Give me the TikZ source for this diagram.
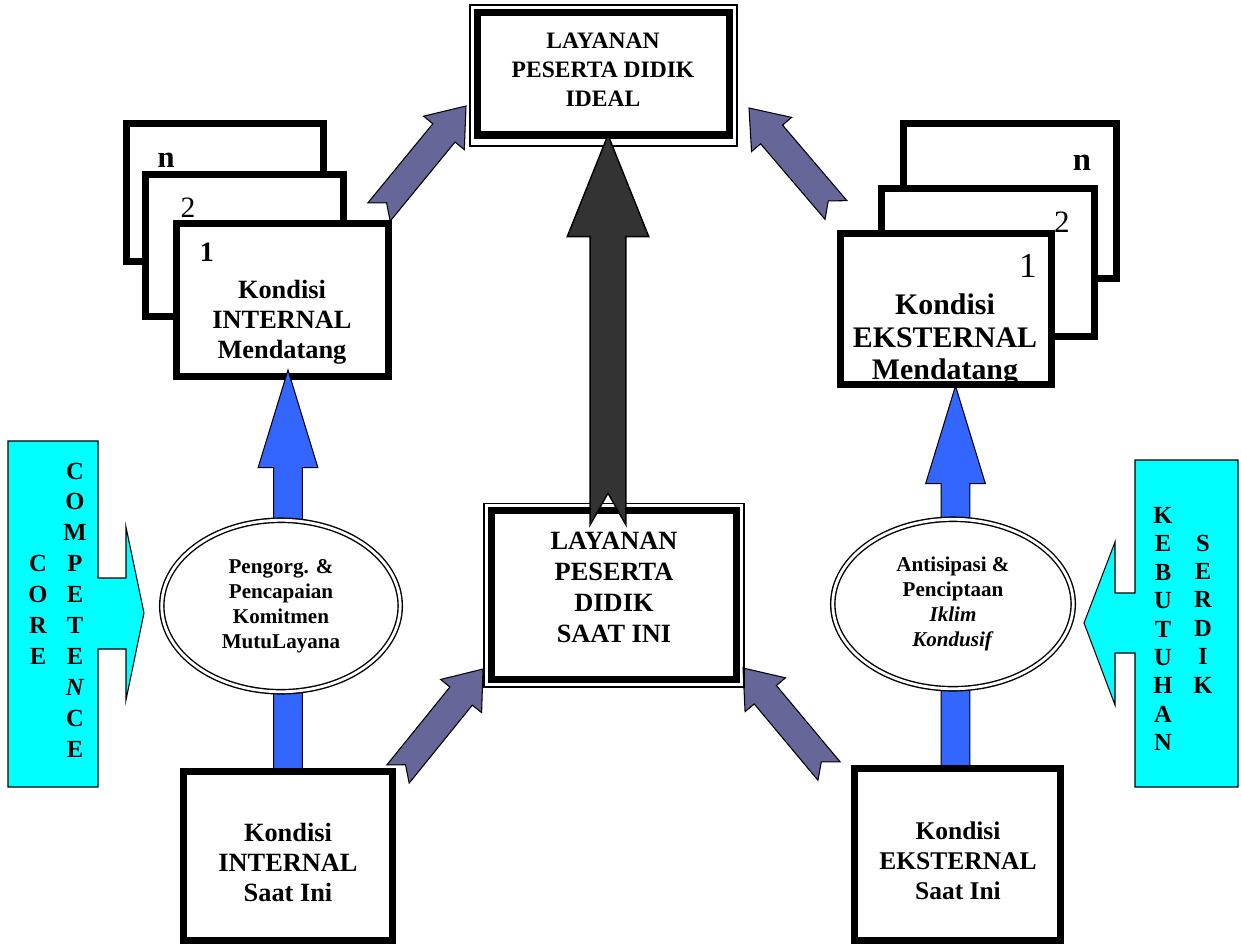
\documentclass[tikz,border=0pt]{standalone}
\usepackage{fontspec}
\setmainfont{Liberation Serif}
\usepackage{xcolor}
\definecolor{arrpurple}{HTML}{666699}
\definecolor{arrblue}{HTML}{3366FF}
\definecolor{arrdark}{HTML}{333333}
\definecolor{sidecyan}{HTML}{00FFFF}
\usetikzlibrary{calc,shapes.geometric}

% block arrow: style, tail, tip, shaft half width, head half width, head length, notch
\newcommand\blockarrow[7]{%
  \draw[#1] (#3)
    -- ($(#3)!#6!(#2)!#5!90:(#3)$)
    -- ($(#3)!#6!(#2)!#4!90:(#3)$)
    -- ($(#2)!#4!90:(#3)$)
    -- ($(#2)!#7!(#3)$)
    -- ($(#2)!#4!-90:(#3)$)
    -- ($(#3)!#6!(#2)!#4!-90:(#3)$)
    -- ($(#3)!#6!(#2)!#5!-90:(#3)$)
    -- cycle;}

\begin{document}
\begin{tikzpicture}[x=0.02cm, y=-0.02cm,
    kbox/.style={draw, line width=4pt, fill=white, inner sep=0pt},
    thinframe/.style={draw, line width=0.8pt},
    txt/.style={align=center, inner sep=0pt, font=\bfseries\fontsize{15}{17}\selectfont},
    ovalnode/.style={ellipse, draw, double, double distance=1.6pt, line width=0.8pt, fill=white, inner sep=0pt, align=center, font=\bfseries\fontsize{12}{14.2}\selectfont},
    sidetxt/.style={align=center, inner sep=0pt, font=\bfseries\fontsize{14}{17.6}\selectfont},
    sideshape/.style={draw, fill=sidecyan, line width=0.6pt},
    purplearr/.style={draw, fill=arrpurple, line width=0.6pt},
    bluearr/.style={draw, fill=arrblue, line width=0.6pt},
    darkarr/.style={draw, fill=arrdark, line width=0.8pt}
]
\useasboundingbox (0,0) rectangle (1241,944);

% side arrows
\draw[sideshape] (8,441) -- (98,441) -- (98,578) -- (126,578) -- (126,527) -- (144,613)
  -- (126,700) -- (126,649) -- (98,649) -- (98,787) -- (8,787) -- cycle;
\draw[sideshape] (1238,460) -- (1135,460) -- (1135,593) -- (1115,593) -- (1115,542) -- (1084,623)
  -- (1115,705) -- (1115,653) -- (1135,653) -- (1135,787) -- (1238,787) -- cycle;
\node[sidetxt] (core) at (38,610) {C\\O\\R\\E};
\node[sidetxt] (competence) at (75,610) {C\\O\\M\\P\\E\\T\\E\\\textit{N}\\C\\E};
\node[sidetxt, font=\bfseries\fontsize{14}{16.2}\selectfont] (kebutuhan) at (1163,629) {K\\E\\B\\U\\T\\U\\H\\A\\N};
\node[sidetxt, font=\bfseries\fontsize{14}{16.2}\selectfont] (serdik) at (1203,614) {S\\E\\R\\D\\I\\K};

% purple arrows
\coordinate (pAtail) at (379,212); \coordinate (pAtip) at (466,106);
\coordinate (pBtail) at (836,210); \coordinate (pBtip) at (749,108);
\coordinate (pCtail) at (398,774); \coordinate (pCtip) at (483,669);
\coordinate (pDtail) at (829,771); \coordinate (pDtip) at (743,668);
\blockarrow{purplearr}{pAtail}{pAtip}{8.2pt}{15pt}{19.8pt}{6.8pt}
\blockarrow{purplearr}{pBtail}{pBtip}{8.2pt}{15pt}{19.8pt}{6.8pt}
\blockarrow{purplearr}{pCtail}{pCtip}{8.2pt}{15pt}{19.8pt}{6.8pt}
\blockarrow{purplearr}{pDtail}{pDtip}{8.2pt}{15pt}{19.8pt}{6.8pt}

% internal, future
\node[kbox, minimum width=3.94cm, minimum height=2.76cm] (intn) at (225,192.5) {};
\node[inner sep=0pt, font=\bfseries\fontsize{17.4}{20}\selectfont] (intnlab) at (166,160) {n};
\node[kbox, minimum width=3.96cm, minimum height=2.84cm] (int2) at (244.5,245.5) {};
\node[inner sep=0pt, font=\fontsize{16.8}{20}\selectfont] (int2lab) at (188,208) {2};
\node[kbox, minimum width=4.24cm, minimum height=3.06cm] (int1) at (282.5,300) {};
\node[inner sep=0pt, font=\bfseries\fontsize{16}{20}\selectfont] (int1lab) at (207,252.5) {1};
\node[txt] (int1txt) at (282,322) {Kondisi\\INTERNAL\\Mendatang};

% external, future
\node[kbox, minimum width=4.26cm, minimum height=3.10cm] (ekn) at (1010,201) {};
\node[inner sep=0pt, font=\bfseries\fontsize{18.6}{20}\selectfont] (eknlab) at (1082,163) {n};
\node[kbox, minimum width=4.26cm, minimum height=2.96cm] (ek2) at (988,262.5) {};
\node[inner sep=0pt, font=\fontsize{17.7}{20}\selectfont] (ek2lab) at (1062,222) {2};
\node[kbox, minimum width=4.22cm, minimum height=3.02cm] (ek1) at (946,309) {};
\node[inner sep=0pt, font=\fontsize{20}{22}\selectfont] (ek1lab) at (1028,266) {1};
\node[txt, font=\bfseries\fontsize{17}{18.4}\selectfont] (ek1txt) at (945,340) {Kondisi\\EKSTERNAL\\Mendatang};
\draw[line width=4pt] ([yshift=2pt]ek1.south west) -- ([yshift=2pt]ek1.south east);

% blue arrows
\coordinate (bLtail) at (288,770); \coordinate (bLtip) at (288,370);
\coordinate (bRtail) at (955.5,768); \coordinate (bRtip) at (955.5,386);
\blockarrow{bluearr}{bLtail}{bLtip}{8.2pt}{17pt}{55.6pt}{0pt}
\blockarrow{bluearr}{bRtail}{bRtip}{8.2pt}{17pt}{55.6pt}{0pt}

% ellipses
\node[ovalnode, minimum width=4.77cm, minimum height=3.43cm] (komitmen) at (281,606)
  {Pengorg. \&\\Pencapaian\\Komitmen\\MutuLayana};
\node[ovalnode, minimum width=4.81cm, minimum height=3.39cm] (iklim) at (953,604)
  {Antisipasi \&\\Penciptaan\\\textit{Iklim}\\\textit{Kondusif}};

% present conditions
\node[kbox, minimum width=4.18cm, minimum height=3.38cm] (intnow) at (288,856) {};
\node[txt] (intnowtxt) at (288,862.5) {Kondisi\\INTERNAL\\Saat Ini};
\node[kbox, minimum width=4.12cm, minimum height=3.44cm] (eknow) at (957.5,854.5) {};
\node[txt, font=\bfseries\fontsize{14.5}{17}\selectfont] (eknowtxt) at (958,860.5) {Kondisi\\EKSTERNAL\\Saat Ini};

% service boxes
\draw[thinframe] (470,5) rectangle (737,146);
\node[kbox, minimum width=5.04cm, minimum height=2.46cm] (ideal) at (603.5,73.5) {};
\node[txt, font=\bfseries\fontsize{13.4}{16.4}\selectfont] (idealtxt) at (603,69.5) {LAYANAN\\PESERTA DIDIK\\IDEAL};
\draw[thinframe] (484,503.5) rectangle (744,687);
\node[kbox, minimum width=4.90cm, minimum height=3.39cm] (now) at (614,595) {};
\node[txt, font=\bfseries\fontsize{15}{17.6}\selectfont] (nowtxt) at (614,587.5) {LAYANAN\\PESERTA\\DIDIK\\SAAT INI};

% main arrow
\coordinate (dtail) at (608,525); \coordinate (dtip) at (608,135);
\blockarrow{darkarr}{dtail}{dtip}{10.2pt}{23.2pt}{57.8pt}{18.1pt}
\end{tikzpicture}
\end{document}
